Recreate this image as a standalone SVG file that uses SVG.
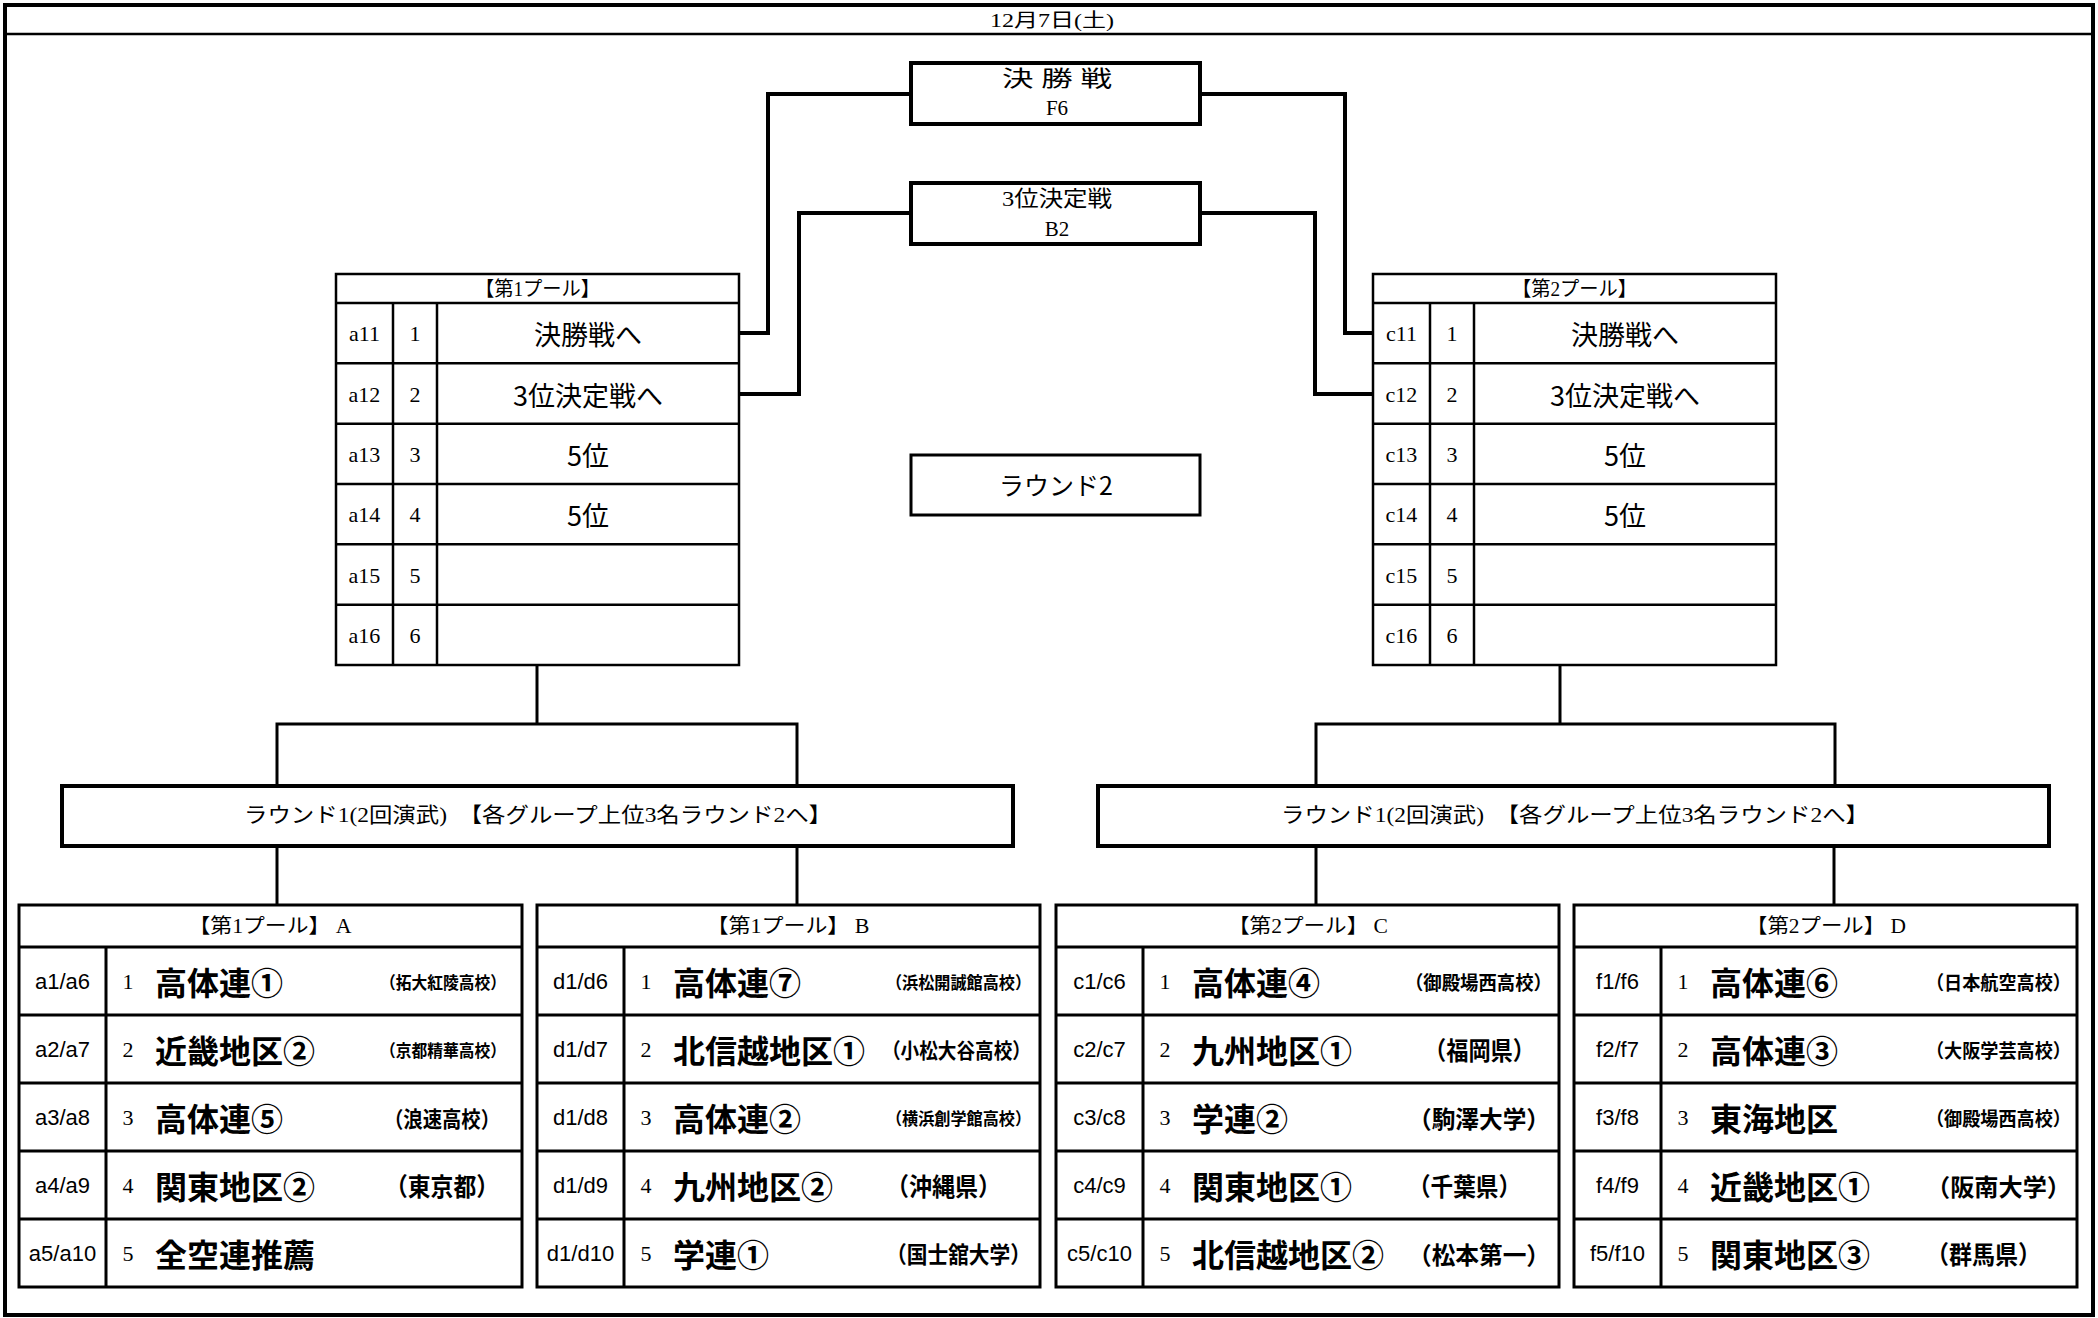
<svg xmlns="http://www.w3.org/2000/svg" width="2098" height="1318" viewBox="0 0 2098 1318">
<style>
.frame{fill:none;stroke:#000;stroke-width:4}
.box{fill:#fff;stroke:#000;stroke-width:4}
.box3{fill:#fff;stroke:#000;stroke-width:3}
.tbl{fill:#fff;stroke:#000;stroke-width:2.5}
.ln{stroke:#000;stroke-width:2.5;fill:none}
.ln3{stroke:#000;stroke-width:3;fill:none}
.con{stroke:#000;stroke-width:4;fill:none}
text{dominant-baseline:central;fill:#000}
.ser{font-family:"Liberation Serif","Noto Sans CJK JP",serif}
.jp{font-family:"Noto Sans CJK JP",sans-serif}
.lab{font-family:"Liberation Sans","Noto Sans CJK JP",sans-serif;font-size:22px;text-anchor:middle}
.num{font-family:"Liberation Serif",serif;font-size:22px;text-anchor:middle}
.pnum{font-family:"Liberation Serif",serif;font-size:22px;text-anchor:middle}
.name{font-family:"Noto Sans CJK JP",sans-serif;font-size:32px;font-weight:bold}
.sch{font-family:"Noto Sans CJK JP",sans-serif;font-weight:bold}
.ctr{text-anchor:middle}
.res{font-family:"Noto Sans CJK JP",sans-serif;font-size:27px;text-anchor:middle}
</style>

<g id="frame">
<rect class="frame" x="5" y="5" width="2088" height="1310"/>
<line class="ln" x1="5" y1="34" x2="2093" y2="34"/>
<text class="ser ctr" x="1052" y="20" font-size="19" textLength="124" lengthAdjust="spacingAndGlyphs">12月7日(土)</text>
</g>

<g id="connectors">
<polyline class="con" points="911,94 768,94 768,333 739,333"/>
<polyline class="con" points="911,213 799,213 799,394 739,394"/>
<polyline class="con" points="1200,94 1345,94 1345,333 1373,333"/>
<polyline class="con" points="1200,213 1315,213 1315,394 1373,394"/>
<polyline class="ln3" points="537,665 537,724"/>
<polyline class="ln3" points="277,785 277,724 797,724 797,785"/>
<line class="ln3" x1="277" y1="846" x2="277" y2="905"/>
<line class="ln3" x1="797" y1="846" x2="797" y2="905"/>
<polyline class="ln3" points="1560,665 1560,724"/>
<polyline class="ln3" points="1316,785 1316,724 1835,724 1835,785"/>
<line class="ln3" x1="1316" y1="846" x2="1316" y2="905"/>
<line class="ln3" x1="1834" y1="846" x2="1834" y2="905"/>
</g>

<g id="final">
<rect class="box" x="911" y="63" width="289" height="61"/>
<text class="ser ctr" x="1057" y="78" font-size="22" textLength="110" lengthAdjust="spacingAndGlyphs">決 勝 戦</text>
<text class="ser ctr" x="1057" y="108" font-size="21">F6</text>
</g>

<g id="third">
<rect class="box" x="911" y="183" width="289" height="61"/>
<text class="ser ctr" x="1057" y="198" font-size="22" textLength="110" lengthAdjust="spacingAndGlyphs">3位決定戦</text>
<text class="ser ctr" x="1057" y="229" font-size="21">B2</text>
</g>

<g id="round2">
<rect class="box3" x="911" y="455" width="289" height="60"/>
<text class="jp ctr" x="1056" y="484" font-size="25">ラウンド2</text>
</g>

<g id="pool1">
<rect class="tbl" x="336" y="274" width="403" height="391"/>
<path class="ln" d="M336 303H739M336 363.3H739M336 423.7H739M336 484H739M336 544.3H739M336 604.7H739M393 303V665M437 303V665"/>
<text class="ser ctr" x="537.5" y="288.5" font-size="20" textLength="125" lengthAdjust="spacingAndGlyphs">【第1プール】</text>
<text class="pnum" x="364.5" y="333">a11</text><text class="pnum" x="415" y="333">1</text>
<text class="pnum" x="364.5" y="394">a12</text><text class="pnum" x="415" y="394">2</text>
<text class="pnum" x="364.5" y="454">a13</text><text class="pnum" x="415" y="454">3</text>
<text class="pnum" x="364.5" y="514">a14</text><text class="pnum" x="415" y="514">4</text>
<text class="pnum" x="364.5" y="575">a15</text><text class="pnum" x="415" y="575">5</text>
<text class="pnum" x="364.5" y="635">a16</text><text class="pnum" x="415" y="635">6</text>
<text class="res" x="588" y="333">決勝戦へ</text>
<text class="res" x="588" y="394">3位決定戦へ</text>
<text class="res" x="588" y="454">5位</text>
<text class="res" x="588" y="514">5位</text>
</g>

<g id="pool2">
<rect class="tbl" x="1373" y="274" width="403" height="391"/>
<path class="ln" d="M1373 303H1776M1373 363.3H1776M1373 423.7H1776M1373 484H1776M1373 544.3H1776M1373 604.7H1776M1430 303V665M1474 303V665"/>
<text class="ser ctr" x="1574.5" y="288.5" font-size="20" textLength="125" lengthAdjust="spacingAndGlyphs">【第2プール】</text>
<text class="pnum" x="1401.5" y="333">c11</text><text class="pnum" x="1452" y="333">1</text>
<text class="pnum" x="1401.5" y="394">c12</text><text class="pnum" x="1452" y="394">2</text>
<text class="pnum" x="1401.5" y="454">c13</text><text class="pnum" x="1452" y="454">3</text>
<text class="pnum" x="1401.5" y="514">c14</text><text class="pnum" x="1452" y="514">4</text>
<text class="pnum" x="1401.5" y="575">c15</text><text class="pnum" x="1452" y="575">5</text>
<text class="pnum" x="1401.5" y="635">c16</text><text class="pnum" x="1452" y="635">6</text>
<text class="res" x="1625" y="333">決勝戦へ</text>
<text class="res" x="1625" y="394">3位決定戦へ</text>
<text class="res" x="1625" y="454">5位</text>
<text class="res" x="1625" y="514">5位</text>
</g>

<g id="round1-left">
<rect class="box" x="62" y="786" width="951" height="60"/>
<text class="ser ctr" x="538" y="815" font-size="21" textLength="588" lengthAdjust="spacingAndGlyphs">ラウンド1(2回演武)　【各グループ上位3名ラウンド2へ】</text>
</g>

<g id="round1-right">
<rect class="box" x="1098" y="786" width="951" height="60"/>
<text class="ser ctr" x="1575" y="815" font-size="21" textLength="588" lengthAdjust="spacingAndGlyphs">ラウンド1(2回演武)　【各グループ上位3名ラウンド2へ】</text>
</g>

<g id="groupA" transform="translate(19,0)">
<rect class="box3" x="0" y="905" width="503" height="382"/>
<path class="ln3" d="M0 947H503M0 1015H503M0 1083H503M0 1151H503M0 1219H503M87 947V1287"/>
<text class="ser ctr" x="251" y="926" font-size="20" textLength="163" lengthAdjust="spacingAndGlyphs">【第1プール】 A</text>
<text class="lab" x="43.5" y="981">a1/a6</text><text class="num" x="109" y="981">1</text><text class="name" x="136" y="981">高体連①</text>
<text class="sch" x="361" y="981" font-size="17" textLength="126" lengthAdjust="spacingAndGlyphs">（拓大紅陵高校）</text>
<text class="lab" x="43.5" y="1049">a2/a7</text><text class="num" x="109" y="1049">2</text><text class="name" x="136" y="1049">近畿地区②</text>
<text class="sch" x="361" y="1049" font-size="17" textLength="126" lengthAdjust="spacingAndGlyphs">（京都精華高校）</text>
<text class="lab" x="43.5" y="1117">a3/a8</text><text class="num" x="109" y="1117">3</text><text class="name" x="136" y="1117">高体連⑤</text>
<text class="sch" x="365" y="1117" font-size="22" textLength="116" lengthAdjust="spacingAndGlyphs">（浪速高校）</text>
<text class="lab" x="43.5" y="1185">a4/a9</text><text class="num" x="109" y="1185">4</text><text class="name" x="136" y="1185">関東地区②</text>
<text class="sch" x="366" y="1185" font-size="25" textLength="114" lengthAdjust="spacingAndGlyphs">（東京都）</text>
<text class="lab" x="43.5" y="1253">a5/a10</text><text class="num" x="109" y="1253">5</text><text class="name" x="136" y="1253">全空連推薦</text>
</g>

<g id="groupB" transform="translate(537,0)">
<rect class="box3" x="0" y="905" width="503" height="382"/>
<path class="ln3" d="M0 947H503M0 1015H503M0 1083H503M0 1151H503M0 1219H503M87 947V1287"/>
<text class="ser ctr" x="251" y="926" font-size="20" textLength="163" lengthAdjust="spacingAndGlyphs">【第1プール】 B</text>
<text class="lab" x="43.5" y="981">d1/d6</text><text class="num" x="109" y="981">1</text><text class="name" x="136" y="981">高体連⑦</text>
<text class="sch" x="349" y="981" font-size="17" textLength="145" lengthAdjust="spacingAndGlyphs">（浜松開誠館高校）</text>
<text class="lab" x="43.5" y="1049">d1/d7</text><text class="num" x="109" y="1049">2</text><text class="name" x="136" y="1049">北信越地区①</text>
<text class="sch" x="345" y="1049" font-size="21" textLength="149" lengthAdjust="spacingAndGlyphs">（小松大谷高校）</text>
<text class="lab" x="43.5" y="1117">d1/d8</text><text class="num" x="109" y="1117">3</text><text class="name" x="136" y="1117">高体連②</text>
<text class="sch" x="349" y="1117" font-size="17" textLength="145" lengthAdjust="spacingAndGlyphs">（横浜創学館高校）</text>
<text class="lab" x="43.5" y="1185">d1/d9</text><text class="num" x="109" y="1185">4</text><text class="name" x="136" y="1185">九州地区②</text>
<text class="sch" x="349" y="1185" font-size="25" textLength="115" lengthAdjust="spacingAndGlyphs">（沖縄県）</text>
<text class="lab" x="43.5" y="1253">d1/d10</text><text class="num" x="109" y="1253">5</text><text class="name" x="136" y="1253">学連①</text>
<text class="sch" x="349" y="1253" font-size="23" textLength="145" lengthAdjust="spacingAndGlyphs">（国士舘大学）</text>
</g>

<g id="groupC" transform="translate(1056,0)">
<rect class="box3" x="0" y="905" width="503" height="382"/>
<path class="ln3" d="M0 947H503M0 1015H503M0 1083H503M0 1151H503M0 1219H503M87 947V1287"/>
<text class="ser ctr" x="252" y="926" font-size="20" textLength="160" lengthAdjust="spacingAndGlyphs">【第2プール】 C</text>
<text class="lab" x="43.5" y="981">c1/c6</text><text class="num" x="109" y="981">1</text><text class="name" x="136" y="981">高体連④</text>
<text class="sch" x="349" y="981" font-size="19" textLength="147" lengthAdjust="spacingAndGlyphs">（御殿場西高校）</text>
<text class="lab" x="43.5" y="1049">c2/c7</text><text class="num" x="109" y="1049">2</text><text class="name" x="136" y="1049">九州地区①</text>
<text class="sch" x="368" y="1049" font-size="25" textLength="111" lengthAdjust="spacingAndGlyphs">（福岡県）</text>
<text class="lab" x="43.5" y="1117">c3/c8</text><text class="num" x="109" y="1117">3</text><text class="name" x="136" y="1117">学連②</text>
<text class="sch" x="352" y="1117" font-size="24" textLength="142" lengthAdjust="spacingAndGlyphs">（駒澤大学）</text>
<text class="lab" x="43.5" y="1185">c4/c9</text><text class="num" x="109" y="1185">4</text><text class="name" x="136" y="1185">関東地区①</text>
<text class="sch" x="352" y="1185" font-size="25" textLength="113" lengthAdjust="spacingAndGlyphs">（千葉県）</text>
<text class="lab" x="43.5" y="1253">c5/c10</text><text class="num" x="109" y="1253">5</text><text class="name" x="136" y="1253">北信越地区②</text>
<text class="sch" x="352" y="1253" font-size="24" textLength="142" lengthAdjust="spacingAndGlyphs">（松本第一）</text>
</g>

<g id="groupD" transform="translate(1574,0)">
<rect class="box3" x="0" y="905" width="503" height="382"/>
<path class="ln3" d="M0 947H503M0 1015H503M0 1083H503M0 1151H503M0 1219H503M87 947V1287"/>
<text class="ser ctr" x="252" y="926" font-size="20" textLength="160" lengthAdjust="spacingAndGlyphs">【第2プール】 D</text>
<text class="lab" x="43.5" y="981">f1/f6</text><text class="num" x="109" y="981">1</text><text class="name" x="136" y="981">高体連⑥</text>
<text class="sch" x="352" y="981" font-size="19" textLength="145" lengthAdjust="spacingAndGlyphs">（日本航空高校）</text>
<text class="lab" x="43.5" y="1049">f2/f7</text><text class="num" x="109" y="1049">2</text><text class="name" x="136" y="1049">高体連③</text>
<text class="sch" x="352" y="1049" font-size="19" textLength="145" lengthAdjust="spacingAndGlyphs">（大阪学芸高校）</text>
<text class="lab" x="43.5" y="1117">f3/f8</text><text class="num" x="109" y="1117">3</text><text class="name" x="136" y="1117">東海地区</text>
<text class="sch" x="352" y="1117" font-size="19" textLength="145" lengthAdjust="spacingAndGlyphs">（御殿場西高校）</text>
<text class="lab" x="43.5" y="1185">f4/f9</text><text class="num" x="109" y="1185">4</text><text class="name" x="136" y="1185">近畿地区①</text>
<text class="sch" x="352" y="1185" font-size="24" textLength="145" lengthAdjust="spacingAndGlyphs">（阪南大学）</text>
<text class="lab" x="43.5" y="1253">f5/f10</text><text class="num" x="109" y="1253">5</text><text class="name" x="136" y="1253">関東地区③</text>
<text class="sch" x="352" y="1253" font-size="25" textLength="115" lengthAdjust="spacingAndGlyphs">（群馬県）</text>
</g>
</svg>
